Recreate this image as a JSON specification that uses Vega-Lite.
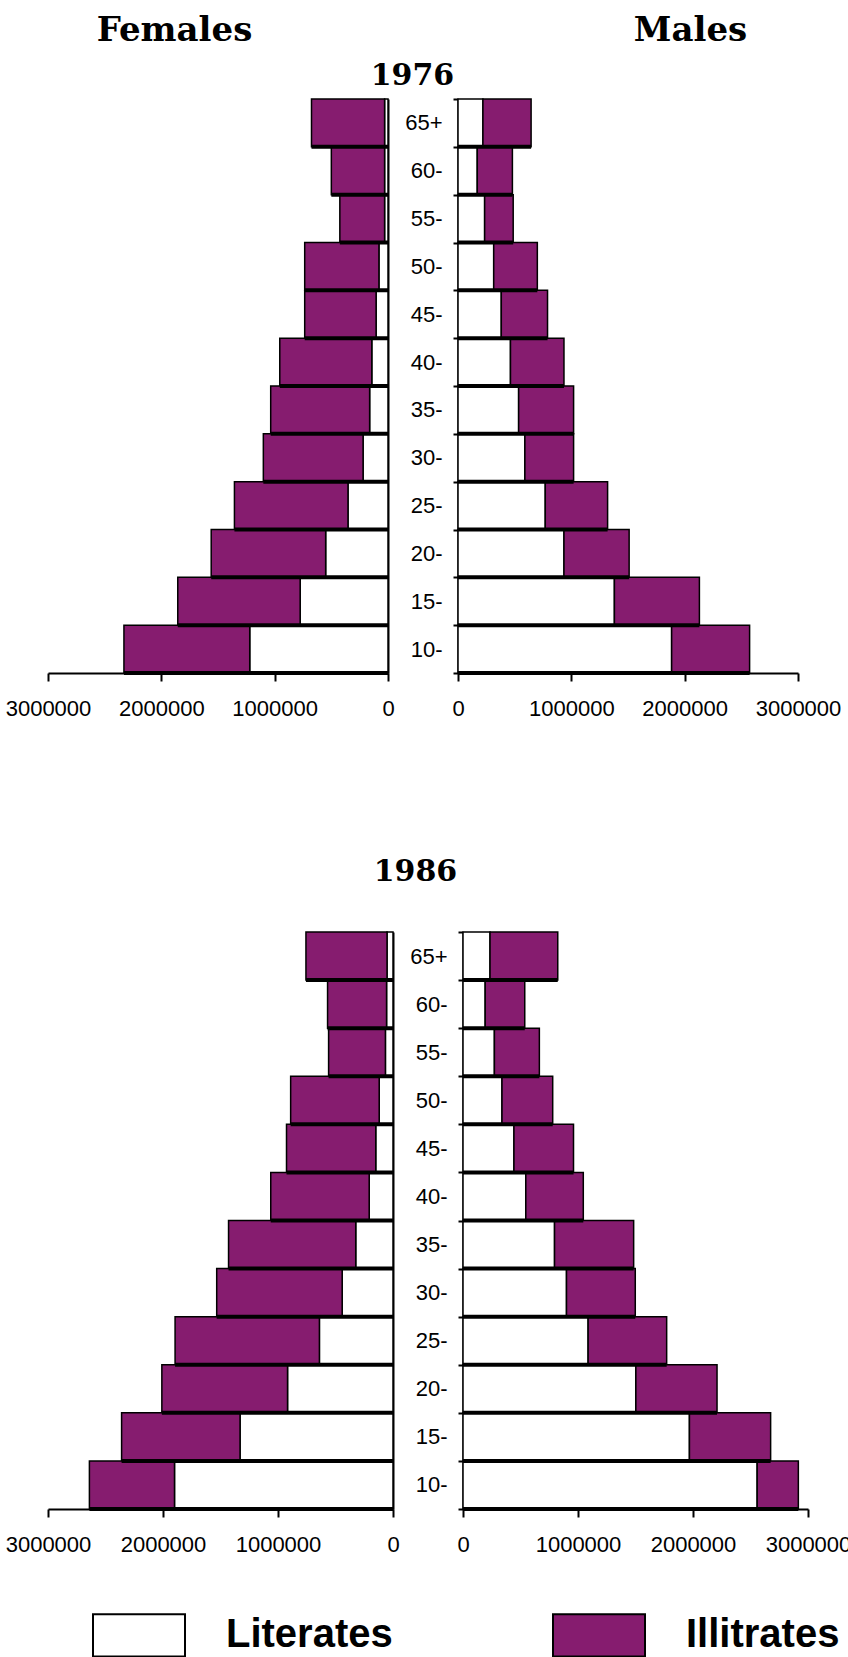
{
  "$schema": "https://vega.github.io/schema/vega-lite/v6.json",
  "background": "white",
  "padding": {"left": 5, "top": 13, "right": 0, "bottom": 0},
  "config": {
    "view": {"stroke": null},
    "axis": {
      "grid": false,
      "domainColor": "black",
      "domainWidth": 2,
      "tickColor": "black",
      "tickWidth": 2,
      "labelColor": "black",
      "labelFont": "Liberation Sans",
      "labelFontSize": 22,
      "labelFlush": false,
      "labelOverlap": false,
      "titleFont": "DejaVu Serif",
      "titleFontWeight": "bold",
      "titleColor": "black",
      "titleAngle": 0,
      "titleAlign": "center",
      "titleBaseline": "alphabetic"
    }
  },
  "datasets": {
    "pop": [
      {"year": 1976, "sex": "F", "age": "65+", "literates": 30000, "total": 675000},
      {"year": 1976, "sex": "F", "age": "60-", "literates": 30000, "total": 500000},
      {"year": 1976, "sex": "F", "age": "55-", "literates": 30000, "total": 425000},
      {"year": 1976, "sex": "F", "age": "50-", "literates": 80000, "total": 735000},
      {"year": 1976, "sex": "F", "age": "45-", "literates": 105000, "total": 735000},
      {"year": 1976, "sex": "F", "age": "40-", "literates": 143000, "total": 955000},
      {"year": 1976, "sex": "F", "age": "35-", "literates": 162000, "total": 1035000},
      {"year": 1976, "sex": "F", "age": "30-", "literates": 220000, "total": 1100000},
      {"year": 1976, "sex": "F", "age": "25-", "literates": 353000, "total": 1355000},
      {"year": 1976, "sex": "F", "age": "20-", "literates": 550000, "total": 1560000},
      {"year": 1976, "sex": "F", "age": "15-", "literates": 775000, "total": 1855000},
      {"year": 1976, "sex": "F", "age": "10-", "literates": 1220000, "total": 2330000},
      {"year": 1976, "sex": "M", "age": "65+", "literates": 220000, "total": 645000},
      {"year": 1976, "sex": "M", "age": "60-", "literates": 170000, "total": 480000},
      {"year": 1976, "sex": "M", "age": "55-", "literates": 235000, "total": 487000},
      {"year": 1976, "sex": "M", "age": "50-", "literates": 315000, "total": 700000},
      {"year": 1976, "sex": "M", "age": "45-", "literates": 382000, "total": 790000},
      {"year": 1976, "sex": "M", "age": "40-", "literates": 463000, "total": 935000},
      {"year": 1976, "sex": "M", "age": "35-", "literates": 535000, "total": 1020000},
      {"year": 1976, "sex": "M", "age": "30-", "literates": 590000, "total": 1020000},
      {"year": 1976, "sex": "M", "age": "25-", "literates": 770000, "total": 1320000},
      {"year": 1976, "sex": "M", "age": "20-", "literates": 935000, "total": 1510000},
      {"year": 1976, "sex": "M", "age": "15-", "literates": 1380000, "total": 2130000},
      {"year": 1976, "sex": "M", "age": "10-", "literates": 1885000, "total": 2573000},
      {"year": 1986, "sex": "F", "age": "65+", "literates": 52000, "total": 757000},
      {"year": 1986, "sex": "F", "age": "60-", "literates": 56000, "total": 569000},
      {"year": 1986, "sex": "F", "age": "55-", "literates": 66000, "total": 560000},
      {"year": 1986, "sex": "F", "age": "50-", "literates": 120000, "total": 890000},
      {"year": 1986, "sex": "F", "age": "45-", "literates": 150000, "total": 926000},
      {"year": 1986, "sex": "F", "age": "40-", "literates": 207000, "total": 1063000},
      {"year": 1986, "sex": "F", "age": "35-", "literates": 324000, "total": 1430000},
      {"year": 1986, "sex": "F", "age": "30-", "literates": 442000, "total": 1533000},
      {"year": 1986, "sex": "F", "age": "25-", "literates": 640000, "total": 1895000},
      {"year": 1986, "sex": "F", "age": "20-", "literates": 917000, "total": 2010000},
      {"year": 1986, "sex": "F", "age": "15-", "literates": 1330000, "total": 2360000},
      {"year": 1986, "sex": "F", "age": "10-", "literates": 1900000, "total": 2640000},
      {"year": 1986, "sex": "M", "age": "65+", "literates": 235000, "total": 824000},
      {"year": 1986, "sex": "M", "age": "60-", "literates": 193000, "total": 537000},
      {"year": 1986, "sex": "M", "age": "55-", "literates": 273000, "total": 664000},
      {"year": 1986, "sex": "M", "age": "50-", "literates": 339000, "total": 780000},
      {"year": 1986, "sex": "M", "age": "45-", "literates": 443000, "total": 961000},
      {"year": 1986, "sex": "M", "age": "40-", "literates": 546000, "total": 1046000},
      {"year": 1986, "sex": "M", "age": "35-", "literates": 796000, "total": 1484000},
      {"year": 1986, "sex": "M", "age": "30-", "literates": 900000, "total": 1498000},
      {"year": 1986, "sex": "M", "age": "25-", "literates": 1088000, "total": 1771000},
      {"year": 1986, "sex": "M", "age": "20-", "literates": 1503000, "total": 2209000},
      {"year": 1986, "sex": "M", "age": "15-", "literates": 1969000, "total": 2675000},
      {"year": 1986, "sex": "M", "age": "10-", "literates": 2558000, "total": 2916000}
    ]
  },
  "bounds": "flush",
  "spacing": 833,
  "vconcat": [
    {
      "bounds": "flush",
      "spacing": 70,
      "hconcat": [
        {
          "width": 340,
          "height": 574,
          "data": {"name": "pop"},
          "transform": [{"filter": "datum.year == 1976 && datum.sex == 'F'"}],
          "encoding": {
            "y": {
              "field": "age", "type": "ordinal",
              "sort": ["65+", "60-", "55-", "50-", "45-", "40-", "35-", "30-", "25-", "20-", "15-", "10-"],
              "scale": {"paddingInner": 0, "paddingOuter": 0},
              "axis": {"orient": "right", "labels": false, "ticks": false, "title": null}
            }
          },
          "layer": [
            {
              "mark": {"type": "bar", "stroke": "black", "strokeWidth": 1.5},
              "encoding": {
                "x": {"field": "literates", "type": "quantitative", "stack": null,
                  "scale": {"domain": [0, 3000000], "reverse": true},
                  "axis": {"values": [0, 1000000, 2000000, 3000000], "format": "d", "tickSize": 8, "labelPadding": 17,
                    "title": "Females", "titleFontSize": 34, "titleX": 126, "titleY": -633}},
                "color": {"datum": "Literates", "type": "nominal",
                  "scale": {"domain": ["Literates", "Illitrates"], "range": ["white", "#861c6f"]},
                  "legend": {
                    "orient": "none", "legendX": 44, "legendY": 1489, "padding": 0,
                    "direction": "horizontal", "columns": 2, "title": null,
                    "symbolType": "M-1,-0.46H1V0.46H-1Z", "symbolSize": 8464,
                    "symbolStrokeColor": "black", "symbolStrokeWidth": 2, "symbolOpacity": 1,
                    "labelFont": "Liberation Sans", "labelFontWeight": "bold", "labelFontSize": 40,
                    "labelColor": "black", "labelOffset": 40, "columnPadding": 156, "labelLimit": 400
                  }}
              }
            },
            {
              "mark": {"type": "bar", "stroke": "black", "strokeWidth": 1.5},
              "encoding": {
                "x": {"field": "literates", "type": "quantitative"},
                "x2": {"field": "total"},
                "color": {"datum": "Illitrates", "type": "nominal"}
              }
            },
            {
              "mark": {"type": "rule", "color": "black", "strokeWidth": 4},
              "encoding": {
                "y": {"field": "age", "type": "ordinal", "bandPosition": 1,
                  "sort": ["65+", "60-", "55-", "50-", "45-", "40-", "35-", "30-", "25-", "20-", "15-", "10-"]},
                "x": {"field": "total", "type": "quantitative"},
                "x2": {"datum": 0}
              }
            }
          ]
        },
        {
          "width": 340,
          "height": 574,
          "data": {"name": "pop"},
          "transform": [{"filter": "datum.year == 1976 && datum.sex == 'M'"}],
          "encoding": {
            "y": {
              "field": "age", "type": "ordinal",
              "sort": ["65+", "60-", "55-", "50-", "45-", "40-", "35-", "30-", "25-", "20-", "15-", "10-"],
              "scale": {"paddingInner": 0, "paddingOuter": 0},
              "axis": {"orient": "left", "tickBand": "extent", "tickSize": 5, "labelPadding": 11,
                "title": "1976", "titleX": -46, "titleY": -15, "titleFontSize": 30}
            }
          },
          "layer": [
            {
              "mark": {"type": "bar", "stroke": "black", "strokeWidth": 1.5},
              "encoding": {
                "x": {"field": "literates", "type": "quantitative", "stack": null,
                  "scale": {"domain": [0, 3000000]},
                  "axis": {"values": [0, 1000000, 2000000, 3000000], "format": "d", "tickSize": 8, "labelPadding": 17,
                    "title": "Males", "titleFontSize": 34, "titleX": 232, "titleY": -633}},
                "color": {"datum": "Literates", "type": "nominal"}
              }
            },
            {
              "mark": {"type": "bar", "stroke": "black", "strokeWidth": 1.5},
              "encoding": {
                "x": {"field": "literates", "type": "quantitative"},
                "x2": {"field": "total"},
                "color": {"datum": "Illitrates", "type": "nominal"}
              }
            },
            {
              "mark": {"type": "rule", "color": "black", "strokeWidth": 4},
              "encoding": {
                "y": {"field": "age", "type": "ordinal", "bandPosition": 1,
                  "sort": ["65+", "60-", "55-", "50-", "45-", "40-", "35-", "30-", "25-", "20-", "15-", "10-"]},
                "x": {"field": "total", "type": "quantitative"},
                "x2": {"datum": 0}
              }
            }
          ]
        }
      ]
    },
    {
      "bounds": "flush",
      "spacing": 70,
      "hconcat": [
        {
          "width": 345,
          "height": 577,
          "data": {"name": "pop"},
          "transform": [{"filter": "datum.year == 1986 && datum.sex == 'F'"}],
          "encoding": {
            "y": {
              "field": "age", "type": "ordinal",
              "sort": ["65+", "60-", "55-", "50-", "45-", "40-", "35-", "30-", "25-", "20-", "15-", "10-"],
              "scale": {"paddingInner": 0, "paddingOuter": 0},
              "axis": {"orient": "right", "labels": false, "ticks": false, "title": null}
            }
          },
          "layer": [
            {
              "mark": {"type": "bar", "stroke": "black", "strokeWidth": 1.5},
              "encoding": {
                "x": {"field": "literates", "type": "quantitative", "stack": null,
                  "scale": {"domain": [0, 3000000], "reverse": true},
                  "axis": {"values": [0, 1000000, 2000000, 3000000], "format": "d", "title": null, "tickSize": 8, "labelPadding": 17}},
                "color": {"datum": "Literates", "type": "nominal"}
              }
            },
            {
              "mark": {"type": "bar", "stroke": "black", "strokeWidth": 1.5},
              "encoding": {
                "x": {"field": "literates", "type": "quantitative"},
                "x2": {"field": "total"},
                "color": {"datum": "Illitrates", "type": "nominal"}
              }
            },
            {
              "mark": {"type": "rule", "color": "black", "strokeWidth": 4},
              "encoding": {
                "y": {"field": "age", "type": "ordinal", "bandPosition": 1,
                  "sort": ["65+", "60-", "55-", "50-", "45-", "40-", "35-", "30-", "25-", "20-", "15-", "10-"]},
                "x": {"field": "total", "type": "quantitative"},
                "x2": {"datum": 0}
              }
            }
          ]
        },
        {
          "width": 345,
          "height": 577,
          "data": {"name": "pop"},
          "transform": [{"filter": "datum.year == 1986 && datum.sex == 'M'"}],
          "encoding": {
            "y": {
              "field": "age", "type": "ordinal",
              "sort": ["65+", "60-", "55-", "50-", "45-", "40-", "35-", "30-", "25-", "20-", "15-", "10-"],
              "scale": {"paddingInner": 0, "paddingOuter": 0},
              "axis": {"orient": "left", "tickBand": "extent", "tickSize": 5, "labelPadding": 11,
                "title": "1986", "titleX": -48, "titleY": -52, "titleFontSize": 30}
            }
          },
          "layer": [
            {
              "mark": {"type": "bar", "stroke": "black", "strokeWidth": 1.5},
              "encoding": {
                "x": {"field": "literates", "type": "quantitative", "stack": null,
                  "scale": {"domain": [0, 3000000]},
                  "axis": {"values": [0, 1000000, 2000000, 3000000], "format": "d", "title": null, "tickSize": 8, "labelPadding": 17}},
                "color": {"datum": "Literates", "type": "nominal"}
              }
            },
            {
              "mark": {"type": "bar", "stroke": "black", "strokeWidth": 1.5},
              "encoding": {
                "x": {"field": "literates", "type": "quantitative"},
                "x2": {"field": "total"},
                "color": {"datum": "Illitrates", "type": "nominal"}
              }
            },
            {
              "mark": {"type": "rule", "color": "black", "strokeWidth": 4},
              "encoding": {
                "y": {"field": "age", "type": "ordinal", "bandPosition": 1,
                  "sort": ["65+", "60-", "55-", "50-", "45-", "40-", "35-", "30-", "25-", "20-", "15-", "10-"]},
                "x": {"field": "total", "type": "quantitative"},
                "x2": {"datum": 0}
              }
            }
          ]
        }
      ]
    }
  ]
}
